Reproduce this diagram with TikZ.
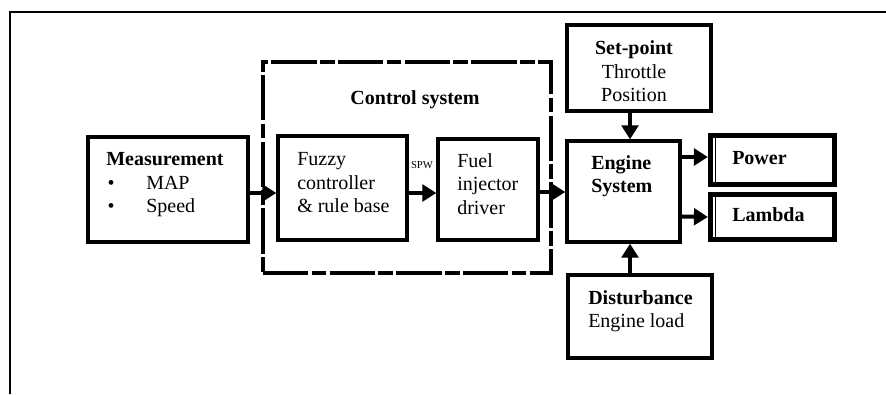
\documentclass[tikz,border=0pt]{standalone}
\usepackage{fontspec}
\setmainfont{Liberation Serif}
\usetikzlibrary{arrows.meta,fit,calc}
\begin{document}
\begin{tikzpicture}[x=0.75pt,y=-0.75pt,
  box/.style={draw, line width=2.5pt, inner sep=0pt},
  dashbox/.style={draw, line width=2.8pt, inner sep=0pt, dash pattern=on 34pt off 2.5pt on 11pt off 2.5pt},
  heavybox/.style={draw, line width=3.9pt, inner sep=0pt},
  txt/.style={inner sep=0pt, font=\fontsize{15}{17.6}\selectfont, align=left},
  ctxt/.style={inner sep=0pt, font=\fontsize{15}{17.6}\selectfont, align=center},
  small/.style={inner sep=0pt, font=\fontsize{8}{9}\selectfont},
  flow/.style={line width=3pt, -{Triangle[length=10.5pt,width=12.5pt]}}]
\path[use as bounding box, fill=white] (0,0) rectangle (886,394);
\draw[line width=1.2pt] (10,394) -- (10,12) -- (886,12);

% boxes
\node[box, fit={(88,137)(248,242)}] (meas) {};
\node[dashbox, fit={(263,62)(551,273)}] (ctrl) {};
\node[box, fit={(278,136)(407,240)}] (fuzzy) {};
\node[box, fit={(438,139)(538,240)}] (fuel) {};
\node[box, fit={(567,141)(680,242)}] (engine) {};
\node[box, fit={(567,25)(711,111)}] (setp) {};
\node[box, fit={(568,275)(712,358)}] (dist) {};
\node[heavybox, fit={(710.5,135.5)(834.5,184.5)}] (power) {};
\node[heavybox, fit={(710.5,194.5)(834.5,239.5)}] (lambda) {};
\draw[line width=0.8pt] (715.5,138) -- (715.5,182);
\draw[line width=0.8pt] (715.5,197) -- (715.5,237);

% texts
\node[txt, anchor=north west] (meastxt) at (106,152.5)
  {\textbf{Measurement}\\\makebox[30pt][l]{\hspace{1pt}•}MAP\\\makebox[30pt][l]{\hspace{1pt}•}Speed};
\node[ctxt, anchor=base] (ctrltxt) at (415,104) {\textbf{Control system}};
\node[txt, anchor=north west] (fuzzytxt) at (297,152.5) {Fuzzy\\controller\\\& rule base};
\node[txt, anchor=north west] (fueltxt) at (457,153) {Fuel\\injector\\driver};
\node[small, anchor=base] (spw) at (422,168) {SPW};
\node[txt, anchor=north west] (enginetxt) at (591,155) {\textbf{Engine}\\\textbf{System}};
\node[ctxt, anchor=north] (setptxt) at (634,40.5) {\textbf{Set-point}\\Throttle\\Position};
\node[txt, anchor=north west] (disttxt) at (588,290) {\textbf{Disturbance}\\Engine load};
\node[txt, anchor=base west] (powertxt) at (732,164) {\textbf{Power}};
\node[txt, anchor=base west] (lambdatxt) at (732,221) {\textbf{Lambda}};

% connectors
\draw[flow] ($(meas.east)+(0,3.5)$) -- ($(fuzzy.west)+(0,5)$);
\draw[flow] ($(fuzzy.east)+(0,5)$) -- ($(fuel.west)+(0,3.5)$);
\draw[flow] ($(fuel.east)+(0,2.5)$) -- ($(engine.west)+(0,0.5)$);
\draw[flow] ($(engine.east)+(0,-34.5)$) -- ($(power.west)+(0,-3)$);
\draw[flow] ($(engine.east)+(0,25)$) -- ($(lambda.west)+(0,0)$);
\draw[flow] ($(setp.south)+(-9,0)$) -- ($(engine.north)+(6.5,0)$);
\draw[flow] ($(dist.north)+(-10,0)$) -- ($(engine.south)+(6.5,0)$);
\end{tikzpicture}
\end{document}
